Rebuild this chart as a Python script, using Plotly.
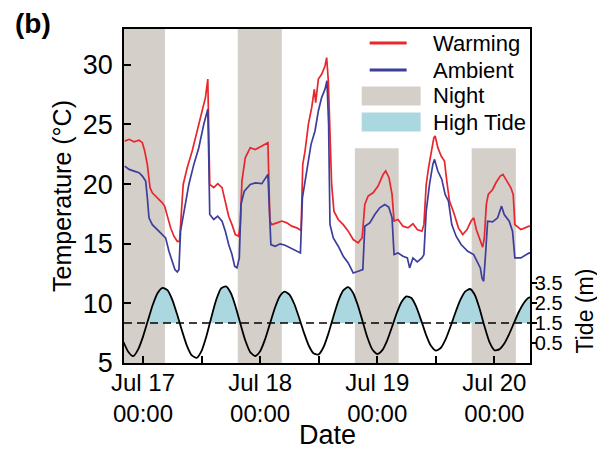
import plotly.graph_objects as go
import pandas as pd

# ---------------- data (hours since Jul 17 00:00) ----------------
BASE = pd.Timestamp("2015-07-17 00:00")

warm_hours = [-3.74, -2.86, -1.84, -0.82, -0.14, 0.34, 0.88, 1.43, 1.90, 2.93, 3.95, 4.42, 4.97, 5.65,
              6.33, 7.01, 7.48, 7.82, 8.23, 9.05, 10.07, 11.09, 12.11, 12.79, 13.27, 13.47, 13.67,
              14.49, 15.31, 16.19, 16.87, 17.55, 18.23, 18.91, 19.59, 19.93, 20.27, 20.95, 21.97,
              23.0, 24.36, 25.59, 26.0, 26.4, 27.42, 28.44, 29.46, 30.48, 31.5, 32.39, 32.73, 33.2,
              33.88, 34.56, 35.11, 35.38, 35.93, 36.6, 37.29, 37.63, 37.97, 38.31, 38.65, 39.12,
              40.0, 41.03, 42.05, 43.07, 44.09, 44.9, 45.45, 46.13, 47.15, 48.17, 49.19, 49.73,
              50.41, 51.03, 51.44, 52.25, 53.27, 54.29, 55.31, 56.2, 57.15, 57.56, 58.03, 58.51,
              59.05, 59.6, 59.87, 60.41, 61.1, 61.77, 62.25, 62.8, 63.68, 64.63, 65.52, 66.4,
              67.22, 67.76, 68.3, 68.92, 69.6, 69.94, 70.35, 70.75, 71.64, 72.32, 73.2, 73.75,
              74.5, 75.38, 75.86, 76.2, 77.42, 79.12, 79.6]
warm_temp = [23.6, 23.75, 23.55, 23.67, 23.47, 22.77, 21.65, 19.7, 19.27, 18.85, 18.43, 18.15, 17.3, 16.33,
             15.63, 15.2, 15.2, 17.73, 19.97, 21.37, 22.77, 24.45, 26.13, 27.25, 28.8, 25.0, 19.97,
             19.7, 20.03, 19.7, 18.57, 17.3, 16.6, 15.77, 15.63, 16.6, 20.25, 22.2, 23.05,
             22.9, 23.2, 23.47, 16.9, 16.6, 16.75, 16.9, 16.75, 16.47, 16.33, 16.1, 21.65, 22.77,
             25.0, 26.4, 27.95, 26.83, 28.8, 29.2, 29.9, 30.6, 28.66, 24.45, 19.97, 17.73,
             17.03, 16.6, 16.05, 15.35, 15.07, 15.5, 18.3, 19.0, 19.27, 19.83, 20.8, 21.1,
             20.53, 19.13, 16.9, 17.03, 16.47, 16.33, 16.67, 16.19, 16.05, 16.6, 19.97, 21.37,
             22.77, 23.9, 24.03, 23.05, 22.35, 21.93, 20.25, 18.57, 17.6, 16.33, 15.77, 16.19,
             16.9, 17.17, 16.19, 15.49, 14.71, 15.49, 18.3, 19.13, 19.55, 20.11, 20.67, 20.81,
             20.25, 19.69, 19.13, 16.6, 16.19, 16.47, 16.45]

amb_hours = [-3.74, -2.86, -1.84, -0.82, -0.14, 0.54, 0.88, 1.22, 1.90, 2.93, 3.95, 4.63, 5.31, 5.99,
             6.53, 7.01, 7.35, 7.69, 8.37, 9.39, 10.41, 11.43, 12.45, 13.27, 13.47, 13.67, 14.49,
             15.31, 16.19, 16.87, 17.55, 18.23, 18.78, 19.25, 19.73, 20.07, 20.75, 21.97, 23.0,
             24.36, 25.59, 25.93, 26.2, 27.08, 28.1, 29.12, 30.14, 31.16, 32.25, 32.66, 33.54,
             34.43, 35.24, 35.93, 36.6, 37.29, 37.69, 38.03, 38.31, 38.99, 40.0, 41.03, 42.05,
             43.07, 44.09, 45.04, 45.45, 46.47, 47.49, 48.51, 49.53, 50.35, 51.03, 51.44, 52.25,
             53.27, 54.16, 54.63, 55.31, 56.2, 57.15, 57.56, 58.03, 58.71, 59.39, 59.73, 60.41,
             61.23, 61.91, 62.59, 63.27, 64.16, 65.18, 66.54, 67.76, 68.58, 69.12, 69.46, 69.8,
             70.14, 70.62, 71.64, 72.66, 73.47, 74.02, 75.04, 75.72, 76.2, 77.42, 79.12, 79.6]
amb_temp = [21.51, 21.23, 21.09, 20.95, 20.67, 20.25, 18.85, 17.17, 16.6, 16.19, 15.77, 15.49, 14.37, 13.53,
            12.83, 12.63, 12.83, 16.05, 17.73, 19.97, 21.65, 23.05, 25.01, 26.27, 22.2, 17.45, 17.03,
            17.31, 16.89, 16.05, 14.93, 14.09, 13.11, 12.97, 13.81, 18.29, 19.41, 19.97, 20.1,
            20.03, 20.81, 16.6, 14.93, 14.79, 14.99, 14.87, 14.65, 14.43, 14.23, 18.85, 21.09,
            23.33, 24.45, 26.13, 27.25, 27.96, 28.66, 25.01, 16.61, 15.49, 14.79, 13.95, 13.39,
            12.55, 12.69, 12.83, 16.47, 16.75, 17.45, 18.01, 18.29, 18.07, 17.17, 14.09, 14.23,
            13.95, 13.81, 12.97, 13.81, 13.47, 13.81, 14.09, 17.73, 19.97, 21.65, 22.07, 21.09,
            20.39, 19.13, 18.57, 16.61, 15.63, 14.93, 14.37, 14.09, 13.39, 12.97, 12.13, 11.85,
            13.81, 16.89, 16.83, 17.17, 18.15, 17.45, 16.89, 16.05, 13.81, 13.81, 14.23, 14.2]

tide_hours = list(range(-4, 81))
tide_m = [0.55, 0.05, -0.16, 0.18, 0.82, 1.62, 2.41, 3.00, 3.26, 3.14, 2.66, 1.92, 1.10, 0.36, -0.12,
          -0.24, 0.11, 0.85, 1.79, 2.66, 3.23, 3.33, 2.99, 2.29, 1.42, 0.60, 0.03, -0.15, 0.09, 0.68,
          1.46, 2.24, 2.83, 3.07, 2.92, 2.45, 1.75, 1.00, 0.35, -0.03, -0.07, 0.30, 0.98, 1.81, 2.59,
          3.12, 3.29, 3.03, 2.40, 1.58, 0.76, 0.17, -0.05, 0.13, 0.61, 1.29, 2.00, 2.56, 2.83, 2.75,
          2.31, 1.63, 0.91, 0.36, 0.12, 0.25, 0.68, 1.31, 2.01, 2.64, 3.07, 3.20, 2.90, 2.19, 1.31,
          0.54, 0.14, 0.18, 0.46, 0.93, 1.49, 2.05, 2.49, 2.76, 2.80]
high_tide_threshold = 1.5

night_start_h = [-4.6, 19.4, 43.41, 67.35]
night_end_h = [4.49, 28.44, 52.39, 76.4]
night_top = [33, 33, 23, 23]

tick_hours = [0, 12, 24, 36, 48, 60, 72]
tick_labels = ["Jul 17<br>00:00", "", "Jul 18<br>00:00", "", "Jul 19<br>00:00", "", "Jul 20<br>00:00"]
temp_ticks = [5, 10, 15, 20, 25, 30]
tide_ticks = [0.5, 1.5, 2.5, 3.5]
x_range_h = [-3.9, 79.3]
temp_range = [5, 33]
tide_range = [-0.5, 16.2]

legend_names = ["Warming", "Ambient", "Night", "High Tide"]


def T(hours):
    return [BASE + pd.Timedelta(hours=h) if h is not None else None for h in hours]


# night polygons
nx, ny = [], []
for s, e, top in zip(night_start_h, night_end_h, night_top):
    nx += [s, e, e, s, s, None]
    ny += [temp_range[0], temp_range[0], top, top, temp_range[0], None]

# high tide polygons (tide above threshold)
hx, hy = [], []
poly_x, poly_y = None, None
for i, (h, v) in enumerate(zip(tide_hours, tide_m)):
    if i > 0:
        h0, v0 = tide_hours[i - 1], tide_m[i - 1]
        if (v0 - high_tide_threshold) * (v - high_tide_threshold) < 0:
            tc = h0 + (high_tide_threshold - v0) * (h - h0) / (v - v0)
            if poly_x is None:
                poly_x, poly_y = [tc], [high_tide_threshold]
            else:
                poly_x.append(tc); poly_y.append(high_tide_threshold)
                hx += poly_x + [None]; hy += poly_y + [None]
                poly_x, poly_y = None, None
    if v > high_tide_threshold:
        if poly_x is None:
            poly_x, poly_y = [h], [high_tide_threshold]
        poly_x.append(h); poly_y.append(v)
if poly_x is not None:
    poly_x.append(poly_x[-1]); poly_y.append(high_tide_threshold)
    hx += poly_x + [None]; hy += poly_y + [None]

RED = "#e8262b"
BLUE = "#3d3d9c"
GREY = "#d5cfca"
LBLUE = "#abd7e0"
FONT = "Arial, Liberation Sans, sans-serif"

# plot-area geometry in pixels (used only for placing legend / panel label)
L, R, TOP, BOT = 124, 530.5, 29, 363
W, H = R - L, BOT - TOP
def px(x):
    return (x - L) / W
def py(y):
    return (BOT - y) / H

fig = go.Figure()
fig.add_trace(go.Scatter(x=T(nx), y=ny, fill="toself", fillcolor=GREY, mode="none",
                         name="Night", showlegend=False, hoverinfo="skip"))
fig.add_trace(go.Scatter(x=T(warm_hours), y=warm_temp, mode="lines", line=dict(color=RED, width=1.7),
                         name="Warming", showlegend=False))
fig.add_trace(go.Scatter(x=T(amb_hours), y=amb_temp, mode="lines", line=dict(color=BLUE, width=1.7),
                         name="Ambient", showlegend=False))
fig.add_trace(go.Scatter(x=T(hx), y=hy, fill="toself", fillcolor=LBLUE, mode="none",
                         name="High Tide", showlegend=False, yaxis="y2", hoverinfo="skip"))
fig.add_trace(go.Scatter(x=T(tide_hours), y=tide_m, mode="lines",
                         line=dict(color="black", width=1.8, shape="spline", smoothing=0.6),
                         name="Tide", showlegend=False, yaxis="y2"))

fig.add_shape(type="line", xref="x domain", x0=0, x1=1, yref="y2", y0=high_tide_threshold, y1=high_tide_threshold,
              line=dict(color="black", width=1.5, dash="8px,5px"))

# legend (drawn as key swatches + labels)
leg_y = [43, 70, 96, 122]
for name, yc, kind, col in zip(legend_names, leg_y, ["line", "line", "box", "box"], [RED, BLUE, GREY, LBLUE]):
    if kind == "line":
        fig.add_shape(type="line", xref="paper", yref="paper", x0=px(370), x1=px(407), y0=py(yc), y1=py(yc),
                      line=dict(color=col, width=3))
    else:
        fig.add_shape(type="rect", xref="paper", yref="paper", x0=px(362), x1=px(421), y0=py(yc - 9.5),
                      y1=py(yc + 9.5), fillcolor=col, line=dict(width=0))
    fig.add_annotation(text=name, xref="paper", yref="paper", x=px(431), y=py(yc), xanchor="left",
                       yanchor="middle", showarrow=False, font=dict(size=22, family=FONT))

fig.update_layout(
    width=597, height=454,
    margin=dict(l=L, r=597 - R, t=TOP, b=454 - BOT),
    plot_bgcolor="white", paper_bgcolor="white",
    font=dict(family=FONT, color="black"),
    showlegend=False,
    xaxis=dict(type="date", range=T(x_range_h), tickvals=T(tick_hours), ticktext=tick_labels,
               ticks="inside", ticklen=7, tickwidth=1.5, tickcolor="black", automargin=False,
               showline=True, linecolor="black", linewidth=1.5, mirror=True, showgrid=False,
               tickfont=dict(size=24), ticklabelstandoff=-3),
    yaxis=dict(range=temp_range, tickvals=temp_ticks, ticks="inside", ticklen=7, tickwidth=1.5,
               tickcolor="black", showline=True, linecolor="black", linewidth=1.5, mirror=True,
               showgrid=False, zeroline=False, tickfont=dict(size=27), automargin=False,
               ticklabelstandoff=4,
               title=dict(text="Temperature (°C)", font=dict(size=25), standoff=4)),
    yaxis2=dict(overlaying="y", side="right", range=tide_range, tickvals=tide_ticks,
                ticktext=[str(v) for v in tide_ticks], ticks="outside", ticklen=5, tickwidth=1.5,
                tickcolor="black", showline=True, linecolor="black", linewidth=1.5, showgrid=False,
                zeroline=False, tickfont=dict(size=20), automargin=False, ticklabelstandoff=-6),
)

fig.add_annotation(text="Date", xref="paper", x=0.5, yref="paper", y=py(435), xanchor="center",
                   yanchor="middle", showarrow=False, font=dict(size=27, family=FONT))
fig.add_annotation(text="Tide (m)", xref="paper", x=px(586), yref="y2", y=2.1, xanchor="center",
                   textangle=-90, showarrow=False, font=dict(size=23, family=FONT))
fig.add_annotation(text="<b>(b)</b>", xref="paper", x=px(33), yref="paper", y=py(24),
                   xanchor="center", yanchor="middle", showarrow=False, font=dict(size=28, family=FONT))

fig.write_html("out.html", config={"displayModeBar": False},
               post_script="document.body.style.margin='0px';")
